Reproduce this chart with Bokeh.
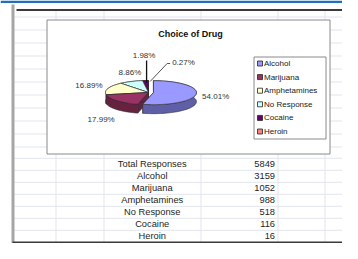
import math
from bokeh.plotting import figure
from bokeh.models import Range1d
from bokeh.core.properties import value
from bokeh.embed import file_html
from bokeh.resources import INLINE

# ---------------- data ----------------
title = "Choice of Drug"
categories = ["Alcohol", "Marijuana", "Amphetamines", "No Response", "Cocaine", "Heroin"]
counts = [3159, 1052, 988, 518, 116, 16]
total_label = "Total Responses"
total = 5849

# ---------------- style / layout ----------------
top_colors = ["#9999FF", "#993366", "#FFFFCC", "#CCFFFF", "#660066", "#FF8080"]
side_colors = ["#5f5fa8", "#66223f", "#b8b893", "#8cb3b3", "#420042", "#b35a5a"]
FONT = value("Liberation Sans")

# pie geometry (picture pixel coordinates)
CX, CY, RX, RY, DEPTH, EXPLODE = 148.0, 92.0, 43.0, 12.0, 9.0, 5.0
EXPLODED = [True, False, False, False, False, False]
# label offsets from the ellipse point at each slice's middle angle
LBL_DX = [6, -16, -5.5, -1, -1, 24]
LBL_DY = [2.5, 19, -2.5, -9, -25, -18]
LBL_ALIGN = ["left", "center", "right", "center", "center", "left"]

# table rows (compressed slightly so the last row fits)
ROW0, ROW_STEP = 163.8, 12.0

p = figure(width=342, height=243, x_range=Range1d(0, 342), y_range=Range1d(243, 0),
           x_axis_type=None, y_axis_type=None, toolbar_location=None,
           output_backend="svg", min_border=0)
p.outline_line_color = None
p.background_fill_color = "white"
p.border_fill_color = "white"

# ---------------- spreadsheet background ----------------
p.quad(left=0, right=342, top=0, bottom=2.5, fill_color="#1f6fc0", line_color=None)
row_lines = [16.5 + 13.0 * k for k in range(11)] + \
            [ROW0 - ROW_STEP / 2 + ROW_STEP * k for k in range(8)]
p.segment(x0=14, x1=342, y0=row_lines, y1=row_lines, line_color="#e2e5ee", line_width=1)
col_lines = [55.5, 103.5, 200.5, 277.5, 324.5]
p.segment(x0=col_lines, x1=col_lines, y0=10, y1=243, line_color="#e2e5ee", line_width=1)
p.quad(left=11, right=14, top=4, bottom=243, fill_color="#a6a6a6", line_color=None)
p.segment(x0=[16], x1=[342], y0=[9.5], y1=[9.5], line_color="#3a3a3a", line_width=2)
p.segment(x0=[12], x1=[342], y0=[242], y1=[242], line_color="#3a3a3a", line_width=2)

# ---------------- chart box ----------------
p.quad(left=46.5, right=329.5, top=19.5, bottom=153.5, fill_color="white",
       line_color="#8a8a8a", line_width=1)
p.text(x=[190], y=[33], text=[title], text_font=FONT, text_font_size="9px",
       text_font_style="bold", text_align="center", text_baseline="middle",
       text_color="#111111")

# ---------------- 3D pie ----------------
def ept(a, ccx, ccy):
    return ccx + RX * math.sin(a), ccy - RY * math.cos(a)

slices = []
acc = 0.0
for i, c in enumerate(counts):
    f = c / total
    a0 = acc * 2 * math.pi
    a1 = (acc + f) * 2 * math.pi
    acc += f
    mid = (a0 + a1) / 2
    if EXPLODED[i]:
        ccx = CX + EXPLODE * math.sin(mid)
        ccy = CY - EXPLODE * math.cos(mid) * RY / RX
    else:
        ccx, ccy = CX, CY
    n = max(2, int(math.degrees(a1 - a0) / 3) + 2)
    arc = [ept(a0 + (a1 - a0) * k / (n - 1), ccx, ccy) for k in range(n)]
    slices.append(dict(a0=a0, a1=a1, mid=mid, cx=ccx, cy=ccy, arc=arc))

xs, ys, fills = [], [], []
for i in reversed(range(len(counts))):
    s = slices[i]
    ccx, ccy, arc = s["cx"], s["cy"], s["arc"]
    for (px, py) in (arc[0], arc[-1]):
        xs.append([ccx, px, px, ccx])
        ys.append([ccy, py, py + DEPTH, ccy + DEPTH])
        fills.append(side_colors[i])
    xs.append([q[0] for q in arc] + [q[0] for q in reversed(arc)])
    ys.append([q[1] for q in arc] + [q[1] + DEPTH for q in reversed(arc)])
    fills.append(side_colors[i])
    xs.append([ccx] + [q[0] for q in arc])
    ys.append([ccy] + [q[1] for q in arc])
    fills.append(top_colors[i])
p.patches(xs=xs, ys=ys, fill_color=fills, line_color="#2e2e2e", line_width=0.6)

# ---------------- pie labels ----------------
for i, c in enumerate(counts):
    s = slices[i]
    mx, my = ept(s["mid"], s["cx"], s["cy"])
    lx, ly = mx + LBL_DX[i], my + LBL_DY[i]
    txt = f"{100 * c / total:.2f}%"
    p.text(x=[lx], y=[ly], text=[txt], text_font=FONT, text_font_size="8px",
           text_align=LBL_ALIGN[i], text_baseline="middle", text_color="#333333")
    if i == 4:
        p.line(x=[mx + 1.5, mx + 1.5], y=[my + 2, ly + 5], line_color="#111111", line_width=1.3)
    if i == 5:
        p.line(x=[mx + 2, lx - 5, lx - 2], y=[my + 1, ly + 1, ly + 1], line_color="#555555", line_width=1)

# ---------------- legend ----------------
leg_y = [63 + 13.6 * k for k in range(len(categories))]
p.quad(left=253.5, right=325.5, top=56.5, bottom=138.5, fill_color="white",
       line_color="#8a8a8a", line_width=1)
p.scatter(x=[259.5] * len(categories), y=leg_y, marker="square", size=5,
          fill_color=top_colors, line_color="#222222", line_width=0.8)
p.text(x=[263.5] * len(categories), y=leg_y, text=categories, text_font=FONT,
       text_font_size="8px", text_align="left", text_baseline="middle",
       text_color="#222222")

# ---------------- table ----------------
tbl_labels = [total_label] + categories
tbl_values = [str(total)] + [str(c) for c in counts]
row_y = [ROW0 + ROW_STEP * k for k in range(len(tbl_labels))]
p.text(x=[151.7] * len(tbl_labels), y=row_y, text=tbl_labels, text_font=FONT,
       text_font_size="9.3px", text_align="center", text_baseline="middle",
       text_color="#1e1e1e")
p.text(x=[274.5] * len(tbl_values), y=row_y, text=tbl_values, text_font=FONT,
       text_font_size="9.3px", text_align="right", text_baseline="middle",
       text_color="#1e1e1e")

open("out.html", "w").write(file_html(p, INLINE))
